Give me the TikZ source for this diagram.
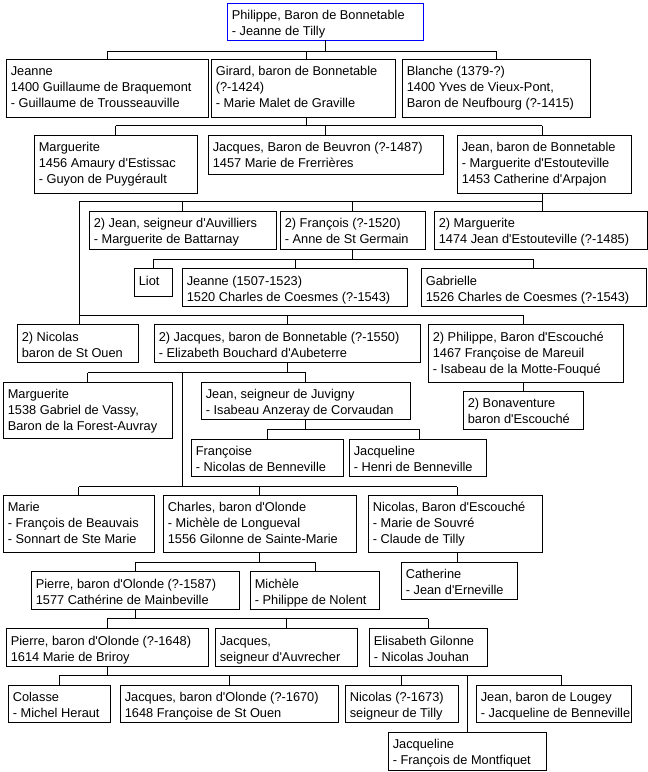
\documentclass[tikz,border=0pt]{standalone}
\usepackage{fontspec}
\setmainfont{Liberation Sans}[Ligatures=TeXOff]
\tikzset{
  famb/.style={draw=black, line width=1pt, rectangle, inner sep=0pt, outer sep=0pt},
  famt/.style={anchor=north west, inner sep=0pt, outer sep=0pt, align=left,
    font=\fontsize{12.8}{16}\selectfont},
  conn/.style={draw=black, line width=1pt}
}
\newcommand\famnode[7][]{%
  \node[famb,#1, minimum width={(#5-#3)*1pt}, minimum height={(#6-#4)*1pt}, anchor=north west] (#2) at (#3,#4) {};
  \node[famt] (#2-t) at ([shift={(4.8,5.5)}]#2.north west) {\rule{0pt}{11.2pt}#7};
}
\begin{document}
\begin{tikzpicture}[x=1pt,y=-1pt]
\useasboundingbox (0,0) rectangle (648,772);
\fill[white] (0,0) rectangle (648,772);

\famnode[draw=blue]{philippe}{227}{3}{423}{40}{Philippe, Baron de Bonnetable\\- Jeanne de Tilly}
\famnode{jeanneA}{6}{59}{208}{117}{Jeanne\\1400 Guillaume de Braquemont\\- Guillaume de Trousseauville}
\famnode{girard}{211}{59}{395}{117}{Girard, baron de Bonnetable\\(?-1424)\\- Marie Malet de Graville}
\famnode{blanche}{402}{59}{590}{117}{Blanche (1379-?)\\1400 Yves de Vieux-Pont,\\Baron de Neufbourg (?-1415)}
\famnode{marg1}{34}{135}{197}{193}{Marguerite\\1456 Amaury d'Estissac\\- Guyon de Puygérault}
\famnode{jacqB}{208}{135}{443}{174}{Jacques, Baron de Beuvron (?-1487)\\1457 Marie de Frerrières}
\famnode{jeanB}{457}{135}{631}{193}{Jean, baron de Bonnetable\\- Marguerite d'Estouteville\\1453 Catherine d'Arpajon}
\famnode{jeanAuv}{89}{211}{276}{249}{2) Jean, seigneur d'Auvilliers\\- Marguerite de Battarnay}
\famnode{franc}{280}{211}{425}{249}{2) François (?-1520)\\- Anne de St Germain}
\famnode{marg2}{434}{211}{647}{249}{2) Marguerite\\1474 Jean d'Estouteville (?-1485)}
\famnode{liot}{134}{268.5}{172}{296.5}{Liot}
\famnode{jeanne2}{182}{268.5}{407}{306}{Jeanne (1507-1523)\\1520 Charles de Coesmes (?-1543)}
\famnode{gabr}{421}{268.5}{646}{306}{Gabrielle\\1526 Charles de Coesmes (?-1543)}
\famnode{nicolas}{17}{324.5}{138}{362.5}{2) Nicolas\\baron de St Ouen}
\famnode{jacqBon}{154}{324.5}{420}{362.5}{2) Jacques, baron de Bonnetable (?-1550)\\- Elizabeth Bouchard d'Aubeterre}
\famnode{philEsc}{428}{324.5}{623}{382}{2) Philippe, Baron d'Escouché\\1467 Françoise de Mareuil\\- Isabeau de la Motte-Fouqué}
\famnode{bonav}{463}{391}{583}{429}{2) Bonaventure\\baron d'Escouché}
\famnode{margV}{3}{382}{172}{438.5}{Marguerite\\1538 Gabriel de Vassy,\\Baron de la Forest-Auvray}
\famnode{jeanJuv}{201}{382}{410}{419.5}{Jean, seigneur de Juvigny\\- Isabeau Anzeray de Corvaudan}
\famnode{francoise}{191}{439}{343}{476.5}{Françoise\\- Nicolas de Benneville}
\famnode{jacqline1}{349}{439}{486}{476.5}{Jacqueline\\- Henri de Benneville}
\famnode{marie}{3}{495}{154}{552.5}{Marie\\- François de Beauvais\\- Sonnart de Ste Marie}
\famnode{charles}{163}{495}{356}{552.5}{Charles, baron d'Olonde\\- Michèle de Longueval\\1556 Gilonne de Sainte-Marie}
\famnode{nicEsc}{368}{495}{542}{552.5}{Nicolas, Baron d'Escouché\\- Marie de Souvré\\- Claude de Tilly}
\famnode{pierre1}{31}{571.5}{239}{609.5}{Pierre, baron d'Olonde (?-1587)\\1577 Cathérine de Mainbeville}
\famnode{michele}{250}{571.5}{379}{609.5}{Michèle\\- Philippe de Nolent}
\famnode{catherine}{401}{562}{517}{599.5}{Catherine\\- Jean d'Erneville}
\famnode{pierre2}{6}{628.5}{208}{666}{Pierre, baron d'Olonde (?-1648)\\1614 Marie de Briroy}
\famnode{jacqAuv}{215}{628.5}{357}{666}{Jacques,\\seigneur d'Auvrecher}
\famnode{elis}{369}{628.5}{487}{666}{Elisabeth Gilonne\\- Nicolas Jouhan}
\famnode{colasse}{8}{685}{110}{722.5}{Colasse\\- Michel Heraut}
\famnode{jacq1670}{120}{685}{338}{722.5}{Jacques, baron d'Olonde (?-1670)\\1648 Françoise de St Ouen}
\famnode{nic1673}{345}{685}{458}{722.5}{Nicolas (?-1673)\\seigneur de Tilly}
\famnode{jeanLou}{476}{685}{631}{722.5}{Jean, baron de Lougey\\- Jacqueline de Benneville}
\famnode{jacqline2}{388}{732}{546}{770}{Jacqueline\\- François de Montfiquet}

% bus levels
\coordinate (b1) at (0,51);
\coordinate (b2) at (0,125.5);
\coordinate (b3) at (0,201.5);
\coordinate (b4) at (0,259);
\coordinate (b5) at (0,315.5);
\coordinate (b6) at (0,372.5);
\coordinate (b7) at (0,429.5);
\coordinate (b8) at (0,486.5);
\coordinate (b9) at (0,562);
\coordinate (b10) at (0,618.5);
\coordinate (b11) at (0,675);
\coordinate (sub8) at (182.5,486.5);

% Philippe
\draw[conn] (philippe.south) -- (philippe.south |- b1);
\draw[conn] (jeanneA.north |- b1) -- (blanche.north |- b1);
\draw[conn] (jeanneA.north) -- (jeanneA.north |- b1);
\draw[conn] ([xshift=3]girard.north) -- ([xshift=3]girard.north |- b1);
\draw[conn] (blanche.north) -- (blanche.north |- b1);
% Girard
\draw[conn] ([xshift=3]girard.south) -- ([xshift=3]girard.south |- b2);
\draw[conn] (marg1.north |- b2) -- ([xshift=-2]jeanB.north |- b2);
\draw[conn] (marg1.north) -- (marg1.north |- b2);
\draw[conn] (jacqB.north) -- (jacqB.north |- b2);
\draw[conn] ([xshift=-2]jeanB.north) -- ([xshift=-2]jeanB.north |- b2);
% Jean baron de Bonnetable
\draw[conn] ([xshift=-2]jeanB.south) -- ([xshift=-2]jeanB.south |- b3);
\draw[conn] ([xshift=1.5]nicolas.north |- b3) -- ([xshift=1.5]marg2.north |- b3);
\draw[conn] ([xshift=1.5]nicolas.north |- b3) -- ([xshift=1.5]nicolas.north);
\draw[conn] (jeanAuv.north) -- (jeanAuv.north |- b3);
\draw[conn] (franc.north) -- (franc.north |- b3);
\draw[conn] ([xshift=1.5]marg2.north) -- ([xshift=1.5]marg2.north |- b3);
% François
\draw[conn] (franc.south) -- (franc.south |- b4);
\draw[conn] (liot.north |- b4) -- (gabr.north |- b4);
\draw[conn] (liot.north) -- (liot.north |- b4);
\draw[conn] ([xshift=1]jeanne2.north) -- ([xshift=1]jeanne2.north |- b4);
\draw[conn] (gabr.north) -- (gabr.north |- b4);
% second bus of Jean
\draw[conn] ([xshift=1.5]nicolas.north |- b5) -- ([xshift=-2]philEsc.north |- b5);
\draw[conn] (jacqBon.north) -- (jacqBon.north |- b5);
\draw[conn] ([xshift=-2]philEsc.north) -- ([xshift=-2]philEsc.north |- b5);
\draw[conn] ([xshift=-2]philEsc.south) -- ([xshift=-2]philEsc.south |- bonav.north);
% Jacques baron de Bonnetable
\draw[conn] (jacqBon.south) -- (jacqBon.south |- b6);
\draw[conn] (margV.north |- b6) -- (jeanJuv.north |- b6);
\draw[conn] (margV.north) -- (margV.north |- b6);
\draw[conn] (jeanJuv.north) -- (jeanJuv.north |- b6);
\draw[conn] (sub8 |- b6) -- (sub8);
% Jean de Juvigny
\draw[conn] (jeanJuv.south) -- (jeanJuv.south |- b7);
\draw[conn] (francoise.north |- b7) -- ([xshift=2]jacqline1.north |- b7);
\draw[conn] (francoise.north) -- (francoise.north |- b7);
\draw[conn] ([xshift=2]jacqline1.north) -- ([xshift=2]jacqline1.north |- b7);
% bus 8
\draw[conn] (marie.north |- b8) -- ([xshift=2]nicEsc.north |- b8);
\draw[conn] (marie.north) -- (marie.north |- b8);
\draw[conn] (charles.north) -- (charles.north |- b8);
\draw[conn] ([xshift=2]nicEsc.north) -- ([xshift=2]nicEsc.north |- b8);
\draw[conn] ([xshift=2]nicEsc.south) -- ([xshift=2]nicEsc.south |- catherine.north);
% Charles
\draw[conn] (charles.south) -- (charles.south |- b9);
\draw[conn] (pierre1.north |- b9) -- ([xshift=1]michele.north |- b9);
\draw[conn] (pierre1.north) -- (pierre1.north |- b9);
\draw[conn] ([xshift=1]michele.north) -- ([xshift=1]michele.north |- b9);
% Pierre 1587
\draw[conn] (pierre1.south) -- (pierre1.south |- b10);
\draw[conn] (pierre2.north |- b10) -- (elis.north |- b10);
\draw[conn] (pierre2.north) -- (pierre2.north |- b10);
\draw[conn] (jacqAuv.north) -- (jacqAuv.north |- b10);
\draw[conn] (elis.north) -- (elis.north |- b10);
% Pierre 1648
\draw[conn] (pierre2.south) -- (pierre2.south |- b11);
\draw[conn] (colasse.north |- b11) -- ([xshift=7.5]jeanLou.north |- b11);
\draw[conn] (colasse.north) -- (colasse.north |- b11);
\draw[conn] (jacq1670.north) -- (jacq1670.north |- b11);
\draw[conn] (nic1673.north) -- (nic1673.north |- b11);
\draw[conn] (jacqline2.north) -- (jacqline2.north |- b11);
\draw[conn] ([xshift=7.5]jeanLou.north) -- ([xshift=7.5]jeanLou.north |- b11);
\end{tikzpicture}
\end{document}
